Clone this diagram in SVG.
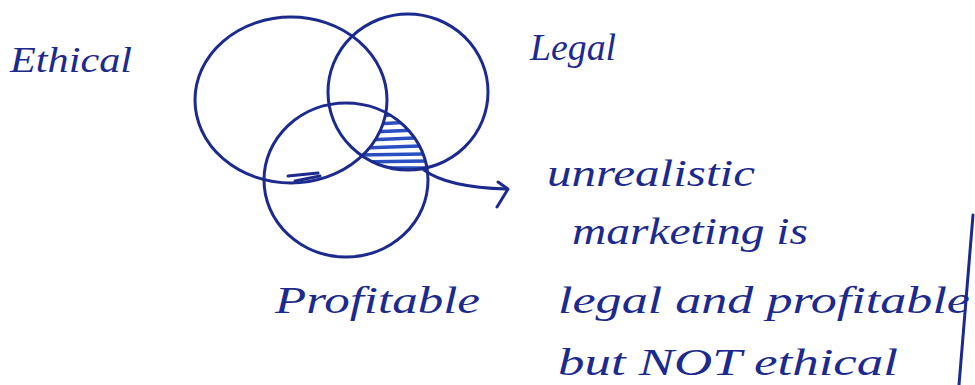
<svg xmlns="http://www.w3.org/2000/svg" width="975" height="385" viewBox="0 0 975 385">
<defs>
<style>
.ink{fill:none;stroke:#1c2a8e;stroke-width:3;stroke-linecap:round;stroke-linejoin:round}
.hatch{fill:none;stroke:#2a4fc0;stroke-width:3.5;stroke-linecap:round}
.lbl{font-family:"Liberation Serif","DejaVu Serif",serif;font-style:italic;fill:#1c2a8e}
</style>
<clipPath id="clipP"><ellipse cx="346" cy="180" rx="82" ry="77"/></clipPath>
<clipPath id="clipL"><ellipse cx="408" cy="92" rx="80" ry="78"/></clipPath>
<mask id="noE"><rect width="975" height="385" fill="#fff"/><ellipse cx="291" cy="100" rx="96" ry="83" fill="#000"/></mask>
</defs>
<rect width="975" height="385" fill="#fff"/>
<g id="hatched-region">
<g clip-path="url(#clipP)"><g clip-path="url(#clipL)"><g mask="url(#noE)">
<path class="hatch" d="M378 116 L402 114 M376 124 L412 122 M370 132 L418 130 M366 140 L414 138 M362 148 L420 146 M358 155 L424 154 M356 162 L426 161 M360 168 L428 168"/>
</g></g></g>
</g>
<g id="ethical">
<ellipse class="ink" cx="291" cy="100" rx="96" ry="83"/>
<text class="lbl" x="10" y="72" font-size="36" textLength="122" lengthAdjust="spacingAndGlyphs">Ethical</text>
</g>
<g id="legal">
<ellipse class="ink" cx="408" cy="92" rx="80" ry="78"/>
<text class="lbl" x="530" y="60" font-size="38" textLength="86" lengthAdjust="spacingAndGlyphs">Legal</text>
</g>
<g id="profitable">
<ellipse class="ink" cx="346" cy="180" rx="82" ry="77"/>
<text class="lbl" x="275" y="313" font-size="38" textLength="205" lengthAdjust="spacingAndGlyphs">Profitable</text>
</g>
<g id="small-mark">
<path class="ink" d="M288 176 L318 173 M295 181 L320 176" stroke-width="2.5"/>
</g>
<g id="connectors">
<path class="ink" d="M424 170 C440 182 470 188 507 189"/>
<path class="ink" d="M498 182 L508 189 L497 207"/>
</g>
<g id="note">
<text class="lbl" font-size="38" x="547" y="186" textLength="208" lengthAdjust="spacingAndGlyphs">unrealistic</text>
<text class="lbl" font-size="38" x="572" y="244" textLength="236" lengthAdjust="spacingAndGlyphs">marketing is</text>
<text class="lbl" font-size="38" x="558" y="313" textLength="412" lengthAdjust="spacingAndGlyphs">legal and profitable</text>
<text class="lbl" font-size="38" x="558" y="375" textLength="340" lengthAdjust="spacingAndGlyphs">but NOT ethical</text>
<path class="ink" d="M973 215 L959 385" stroke-width="2.5"/>
</g>
</svg>
